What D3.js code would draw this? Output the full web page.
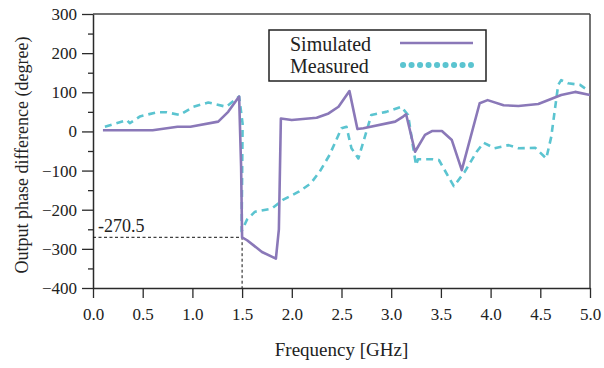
<!DOCTYPE html>
<html><head><meta charset="utf-8">
<script src="https://cdn.jsdelivr.net/npm/d3@7"></script>
<style>body{margin:0;background:#fff}svg{display:block}
svg text{font-family:"Liberation Serif","DejaVu Serif","Times New Roman",serif !important;}</style>
</head><body><svg id="c" width="604" height="368"></svg>
<script>
const simFreq = [0.1,0.6,0.85,0.98,1.26,1.36,1.47,1.49,1.50,1.55,1.70,1.84,1.87,1.89,2.0,2.25,2.37,2.47,2.58,2.66,2.72,3.04,3.12,3.15,3.24,3.34,3.41,3.51,3.61,3.71,3.89,3.97,4.13,4.28,4.48,4.71,4.85,5.0];
const simVals = [3,3,12,12,25,50,89,-90,-270.5,-278,-308,-325,-250,33,29,35,46,63,103,6,8,25,38,44,-52,-9,1,1,-22,-99,72,80,67,65,70,93,101,93];
const measFreq = [0.12,0.34,0.37,0.47,0.64,0.74,0.87,1.01,1.16,1.24,1.34,1.47,1.505,1.495,1.55,1.63,1.80,1.91,2.07,2.19,2.28,2.38,2.50,2.55,2.60,2.67,2.77,2.80,2.95,3.10,3.17,3.22,3.25,3.27,3.42,3.48,3.63,3.74,3.86,3.93,4.04,4.18,4.28,4.45,4.56,4.61,4.68,4.71,4.78,4.90,4.95];
const measVals = [12,29,21,38,49,49,42,63,74,69,63,89,20,-255,-225,-205,-197,-175,-154,-133,-103,-60,8,12,-43,-69,16,42,50,63,42,-39,-86,-71,-71,-73,-140,-103,-52,-29,-43,-35,-43,-42,-69,-14,119,131,123,119,110];
const xTicks = [0,0.5,1,1.5,2,2.5,3,3.5,4,4.5,5];
const yTicks = [300,200,100,0,-100,-200,-300,-400];
const yMinor = [250,150,50,-50,-150,-250,-350];
const seriesNames = ["Simulated","Measured"];
const markerFreq = 1.5, markerVal = -270.5;

const svg = d3.select("#c");
const font = '"Liberation Serif", "DejaVu Serif", serif';
const x = d3.scaleLinear().domain([0,5]).range([93,590]);
const y = d3.scaleLinear().domain([-400,300]).range([288,14]);
const simColor = "#8a78b8", measColor = "#5bc4d0", axisColor = "#2a2a2a";

// frame top/right
svg.append("line").attr("x1",x(0)).attr("x2",x(5)).attr("y1",y(300)).attr("y2",y(300)).attr("stroke","#444").attr("stroke-width",1.5);
svg.append("line").attr("x1",x(5)).attr("x2",x(5)).attr("y1",y(300)).attr("y2",y(-400)).attr("stroke","#444").attr("stroke-width",1.5);

// y minor
const gyMinor = svg.append("g").attr("transform",`translate(${x(0)},0)`)
  .call(d3.axisLeft(y).tickValues(yMinor).tickSize(5).tickFormat(""));
gyMinor.select(".domain").remove();
gyMinor.selectAll("line").attr("stroke",axisColor).attr("stroke-width",1.3);

const gy = svg.append("g").attr("transform",`translate(${x(0)},0)`)
  .call(d3.axisLeft(y).tickValues(yTicks).tickSizeInner(11).tickSizeOuter(0).tickPadding(5).tickFormat(d3.format("d")));
gy.attr("font-family",null).style("font-family",font);
gy.select(".domain").attr("stroke",axisColor).attr("stroke-width",1.5);
gy.selectAll("line").attr("stroke",axisColor).attr("stroke-width",1.3);
gy.selectAll("text").style("font-family",font).attr("font-size",17).attr("fill","#222");

const gx = svg.append("g").attr("transform",`translate(0,${y(-400)})`)
  .call(d3.axisBottom(x).tickValues(xTicks).tickSizeInner(10).tickSizeOuter(0).tickPadding(10).tickFormat(d3.format(".1f")));
gx.attr("font-family",null).style("font-family",font);
gx.select(".domain").attr("stroke",axisColor).attr("stroke-width",1.5);
gx.selectAll("line").attr("stroke",axisColor).attr("stroke-width",1.3);
gx.selectAll("text").style("font-family",font).attr("font-size",17).attr("fill","#222");

// marker dotted lines
svg.append("path")
  .attr("d",`M${x(0)},${y(markerVal)}H${x(markerFreq)}V${y(-400)}`)
  .attr("fill","none").attr("stroke","#111").attr("stroke-width",1).attr("stroke-dasharray","3,2.5");
svg.append("text").attr("x",x(0)+5).attr("y",y(markerVal)-5).text(String(markerVal))
  .style("font-family",font).attr("font-size",18).attr("fill","#222");

const line = d3.line().x(d=>x(d[0])).y(d=>y(d[1]));
const measData = measFreq.map((f,i)=>[f,measVals[i]]);
const simData = simFreq.map((f,i)=>[f,simVals[i]]);
svg.append("path").attr("d",line(measData)).attr("fill","none").attr("stroke",measColor)
  .attr("stroke-width",2.6).attr("stroke-dasharray","7,5").attr("stroke-linejoin","round");
svg.append("path").attr("d",line(simData)).attr("fill","none").attr("stroke",simColor)
  .attr("stroke-width",2.6).attr("stroke-linejoin","round");

// legend
const lg = svg.append("g");
lg.append("rect").attr("x",269).attr("y",30).attr("width",217).attr("height",51)
  .attr("fill","#fff").attr("stroke","#222").attr("stroke-width",1.5);
lg.append("text").attr("x",290).attr("y",51).text(seriesNames[0]).style("font-family",font).attr("font-size",20).attr("fill","#222");
lg.append("text").attr("x",290).attr("y",73).text(seriesNames[1]).style("font-family",font).attr("font-size",20).attr("fill","#222");
lg.append("line").attr("x1",400).attr("x2",473).attr("y1",43).attr("y2",43).attr("stroke",simColor).attr("stroke-width",2.6);
lg.append("line").attr("x1",403).attr("x2",471).attr("y1",65).attr("y2",65).attr("stroke",measColor)
  .attr("stroke-width",6).attr("stroke-linecap","round").attr("stroke-dasharray","0.1,8.4");

// axis titles
svg.append("text").attr("x",(x(0)+x(5))/2).attr("y",356).attr("text-anchor","middle")
  .text("Frequency [GHz]").style("font-family",font).attr("font-size",19).attr("fill","#222");
svg.append("text").attr("transform",`translate(28,${(y(300)+y(-400))/2+4}) rotate(-90)`).attr("text-anchor","middle")
  .text("Output phase difference (degree)").style("font-family",font).attr("font-size",18).attr("fill","#222");
</script></body></html>
